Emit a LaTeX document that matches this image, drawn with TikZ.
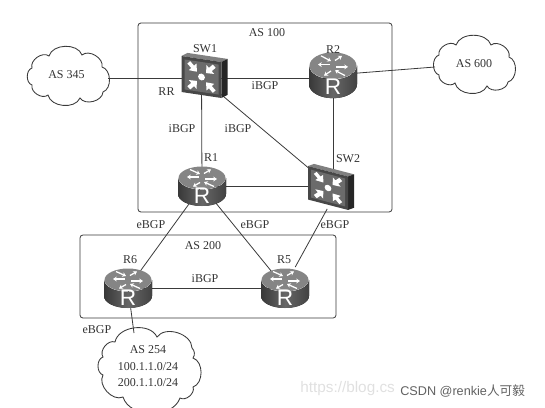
\documentclass[tikz,border=0pt]{standalone}
\usepackage{fontspec}
\setmainfont{Liberation Serif}
\setsansfont{Liberation Sans}
\newfontfamily\cjkfont{Noto Sans CJK SC}
\usetikzlibrary{arrows.meta}
\definecolor{ink}{HTML}{333333}
\definecolor{wire}{HTML}{3A3A3A}
\tikzset{
  x=0.75pt,y=-0.75pt,
  lbl/.style={text=ink,font=\fontsize{9}{10.5}\selectfont,inner sep=0pt,align=center},
  wirel/.style={draw=wire,line width=0.6pt},
  frameas/.style={draw=wire,line width=0.6pt,rounded corners=2.2pt},
  cloudline/.style={draw=wire,line width=0.65pt},
  rbox/.style={inner sep=0pt,minimum width=36pt,minimum height=31pt},
  sbox/.style={inner sep=0pt,minimum width=34pt,minimum height=34pt},
  bump/.style={bend left=#1},
  bump/.default=72,
  rarrow/.style={white,line width=0.95pt,-{Stealth[length=2.8pt,width=3.6pt]}},
  router/.pic={
    \fill[left color=black!78,right color=black!74,middle color=black!60]
      (-24,-8) -- (-24,8) arc[start angle=180,end angle=0,x radius=24,y radius=12] -- (24,-8) arc[start angle=0,end angle=180,x radius=24,y radius=12] -- cycle;
    \fill[black!48] (0,-8) ellipse[x radius=23.5,y radius=11.5];
    \begin{scope}[shift={(0,-8)}]
      \draw[rarrow] (-3,-1) -- (-15,-1);
      \draw[rarrow] (3,1) -- (15,1);
      \draw[rarrow] (-12,-8.5) -- (-2,-4);
      \draw[rarrow] (2,-4.5) -- (9,-8.5);
      \draw[rarrow] (12,8.5) -- (2,4);
      \draw[rarrow] (-2,4.5) -- (-9,8.5);
    \end{scope}
    \node[text=white,font=\sffamily\fontsize{17}{17}\selectfont,inner sep=0pt] at (0,10) {R};
  },
  switchdev/.pic={
    \fill[black!50] (-20,-19) -- (-14,-23) -- (26,-23) -- (20,-19) -- cycle;
    \fill[black!85] (20,-19) -- (26,-23) -- (26,13) -- (20,17) -- cycle;
    \fill[black!72] (-20,-19) -- (20,-19) -- (20,17) -- (-20,17) -- cycle;
    \fill[black!58] (-17,-16) -- (17,-16) -- (17,14) -- (-17,14) -- cycle;
    \begin{scope}[shift={(0,-1)}]
      \fill[white] (0,0) circle[radius=3.4];
      \foreach \a in {45,135,225,315}{
        \fill[white,rotate=\a] (6.5,0) -- (12.5,-5.5) -- (12.5,-2) -- (18,-2) -- (18,2) -- (12.5,2) -- (12.5,5.5) -- cycle;
      }
    \end{scope}
  }
}
\begin{document}
\begin{tikzpicture}
\useasboundingbox (0,0) rectangle (545,407);
% frames
\draw[frameas] (138,23) rectangle (392,212);
\draw[frameas] (80,235) rectangle (336,318);
% device anchors
\node[sbox] (sw1) at (201.5,78) {};
\node[rbox] (r2) at (333,75) {};
\node[rbox] (r1) at (202,186) {};
\node[sbox] (sw2) at (330,186) {};
\node[rbox] (r6) at (128,288) {};
\node[rbox] (r5) at (285,288) {};
\coordinate (c345) at (108,78);
\coordinate (c600) at (435,67);
\coordinate (c254) at (134,333);
% connectors
\draw[wirel] (c345) -- (sw1.center);
\draw[wirel] (sw1.center) -- (sw1.center-|r2.center);
\draw[wirel] (sw1.center) -- (r1.center);
\draw[wirel] (sw1.center) -- (sw2.center);
\draw[wirel] (r2.center) -- (r2.center|-sw2.center);
\draw[wirel] (r2.center) -- (c600);
\draw[wirel] (r1.center) -- (sw2.center);
\draw[wirel] (r1.center) -- (r6.center);
\draw[wirel] (r1.center) -- (r5.center);
\draw[wirel] (sw2.263) -- (r5.64);
\draw[wirel] (r6.center) -- (r5.center);
\draw[wirel] (r6.center) -- (c254);
% devices
\pic[yslant=-0.15] at (sw1.center) {switchdev};
\pic[xshift=-1.5pt,yshift=-2.2pt,yslant=-0.26,yscale=0.93] at (sw2.center) {switchdev};
\pic[yscale=1.16] at (r2.center) {router};
\pic at (r1.center) {router};
\pic at (r6.center) {router};
\pic at (r5.center) {router};
% clouds
\draw[cloudline] (32,68) to[bump] (49,56) to[bump] (82,55) to[bump] (102,67) to[bump] (103,92) to[bump] (80,98) to[bump] (48,95) to[bump] (32,85) to[bump] cycle;
\draw[cloudline] (439,55) to[bump] (456,45) to[bump] (491,45) to[bump] (509,57) to[bump] (508,82) to[bump] (487,86) to[bump] (455,83) to[bump] (439,75) to[bump] cycle;
\draw[cloudline] (103,357) to[bump] (115,342) to[bump] (157,337) to[bump] (192,348) to[bump=40] (193,358) to[bump] (193,387) to[bump] (180,398) to[bump] (123,397) to[bump] (103,375) to[bump] cycle;
% labels
\node[lbl] (t100) at (267,33) {AS 100};
\node[lbl] (tsw1) at (205,49) {SW1};
\node[lbl] (tr2) at (333,50) {R2};
\node[lbl] (trr) at (166.5,92) {RR};
\node[lbl] (ti1) at (265,86) {iBGP};
\node[lbl] (ti2) at (182,129) {iBGP};
\node[lbl] (ti3) at (238,129) {iBGP};
\node[lbl] (tr1) at (211,158) {R1};
\node[lbl] (tsw2) at (348,159) {SW2};
\node[lbl] (te1) at (151,225) {eBGP};
\node[lbl] (te2) at (255,225) {eBGP};
\node[lbl] (te3) at (335,225) {eBGP};
\node[lbl] (t200) at (203,246) {AS 200};
\node[lbl] (tr6) at (130,260) {R6};
\node[lbl] (tr5) at (284,260) {R5};
\node[lbl] (ti4) at (205,279) {iBGP};
\node[lbl] (te4) at (97,330) {eBGP};
\node[lbl] (t345) at (66.5,75) {AS 345};
\node[lbl] (t600) at (474,64) {AS 600};
\node[lbl,font=\fontsize{9}{12.4}\selectfont] (t254) at (148,366.5) {AS 254\\100.1.1.0/24\\200.1.1.0/24};
% watermark
\node[anchor=west,inner sep=0pt,text=black!12,font=\sffamily\fontsize{11.5}{12}\selectfont] (wm1) at (300,389) {https://blog.cs};
\node[anchor=west,inner sep=0pt,text=black!62,font=\sffamily\fontsize{9.5}{11}\selectfont] (wm2) at (400,390.5) {CSDN @renkie{\cjkfont 人可毅}};
\end{tikzpicture}
\end{document}
